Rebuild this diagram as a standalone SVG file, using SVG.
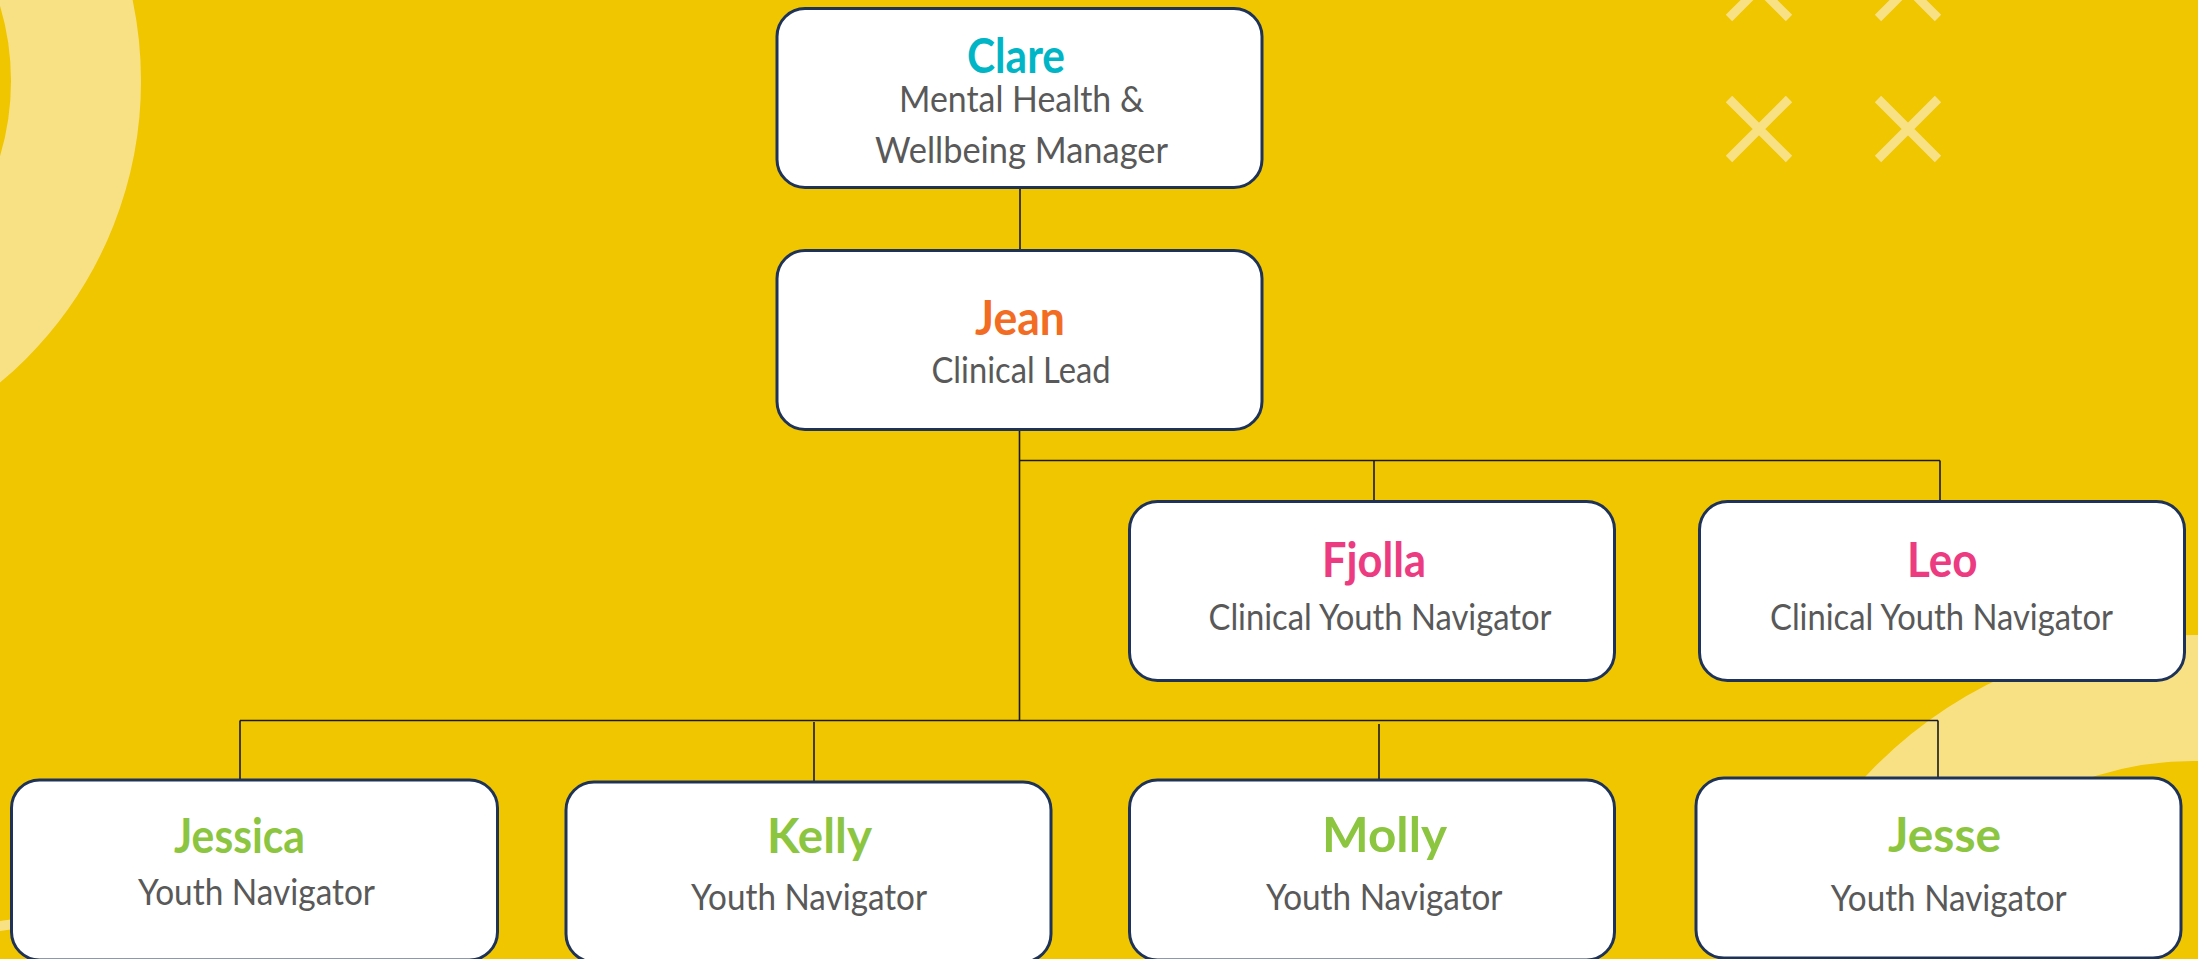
<svg xmlns="http://www.w3.org/2000/svg" width="2198" height="959" viewBox="0 0 2198 959">
<defs>
<style>
.bg{fill:#F0C600}
.deco{fill:none;stroke:#F8E184}
.xm{stroke:#F8E184;stroke-width:9;stroke-linecap:butt}
.box{fill:#FFFFFF;stroke:#1F3358;stroke-width:3}
.ln{stroke:#1A1A1A;stroke-width:1.6;fill:none}
.nm{font-family:Lato,"Open Sans","Liberation Sans",sans-serif;font-weight:700;font-size:47px}
.sub{font-family:Lato,"Open Sans","Liberation Sans",sans-serif;font-size:37px;fill:#595959}
.cyan{fill:#00B5C6}
.orange{fill:#F36C23}
.pink{fill:#EC3B80}
.green{fill:#8CC540}
</style>
</defs>
<rect class="bg" x="0" y="0" width="2198" height="959"/>
<g id="decorations">
<circle class="deco" cx="-252" cy="81" r="328" stroke-width="130"/>
<circle class="deco" cx="2193" cy="1085" r="387" stroke-width="126"/>
<path d="M0,921 L14,919 L14,929 L0,931 Z" fill="#F8E184"/>
<g>
<path class="xm" d="M1729,-42 L1789,18 M1789,-42 L1729,18"/>
<path class="xm" d="M1878,-42 L1938,18 M1938,-42 L1878,18"/>
<path class="xm" d="M1729,99 L1789,159 M1789,99 L1729,159"/>
<path class="xm" d="M1878,99 L1938,159 M1938,99 L1878,159"/>
</g>
</g>
<g id="connectors">
<line class="ln" x1="1020" y1="189" x2="1020" y2="250"/>
<line class="ln" x1="1019.5" y1="431" x2="1019.5" y2="721"/>
<line class="ln" x1="1019.5" y1="460.5" x2="1940" y2="460.5"/>
<line class="ln" x1="1374" y1="460.5" x2="1374" y2="501"/>
<line class="ln" x1="1940" y1="460.5" x2="1940" y2="501"/>
<line class="ln" x1="240" y1="720.5" x2="1938" y2="720.5"/>
<line class="ln" x1="240" y1="720.5" x2="240" y2="780"/>
<line class="ln" x1="814" y1="722" x2="814" y2="782"/>
<line class="ln" x1="1379" y1="724" x2="1379" y2="780"/>
<line class="ln" x1="1938" y1="720.5" x2="1938" y2="778"/>
</g>
<g id="clare">
<rect class="box" x="777" y="8.5" width="485" height="179" rx="28" ry="28"/>
<text class="nm cyan" x="967" y="72.7" textLength="98" lengthAdjust="spacingAndGlyphs">Clare</text>
<text class="sub" x="899" y="112.3" textLength="245" lengthAdjust="spacingAndGlyphs">Mental Health &amp;</text>
<text class="sub" x="875" y="163.3" textLength="293" lengthAdjust="spacingAndGlyphs">Wellbeing Manager</text>
</g>
<g id="jean">
<rect class="box" x="777" y="250.5" width="485" height="179" rx="28" ry="28"/>
<text class="nm orange" x="975" y="335" textLength="90" lengthAdjust="spacingAndGlyphs">Jean</text>
<text class="sub" x="931.5" y="383.3" textLength="179" lengthAdjust="spacingAndGlyphs">Clinical Lead</text>
</g>
<g id="fjolla">
<rect class="box" x="1129.5" y="501.5" width="485" height="179" rx="28" ry="28"/>
<text class="nm pink" x="1322" y="576.7" textLength="104" lengthAdjust="spacingAndGlyphs">Fjolla</text>
<text class="sub" x="1208.5" y="630" textLength="343" lengthAdjust="spacingAndGlyphs">Clinical Youth Navigator</text>
</g>
<g id="leo">
<rect class="box" x="1699.5" y="501.5" width="485" height="179" rx="28" ry="28"/>
<text class="nm pink" x="1907" y="576.7" textLength="70.5" lengthAdjust="spacingAndGlyphs">Leo</text>
<text class="sub" x="1770" y="630" textLength="343" lengthAdjust="spacingAndGlyphs">Clinical Youth Navigator</text>
</g>
<g id="jessica">
<rect class="box" x="11.5" y="780" width="486" height="180" rx="28" ry="28"/>
<text class="nm green" x="174" y="853" textLength="131" lengthAdjust="spacingAndGlyphs">Jessica</text>
<text class="sub" x="138" y="905" textLength="237" lengthAdjust="spacingAndGlyphs">Youth Navigator</text>
</g>
<g id="kelly">
<rect class="box" x="566" y="782" width="485" height="180" rx="28" ry="28"/>
<text class="nm green" x="767" y="853.3" textLength="105" lengthAdjust="spacingAndGlyphs">Kelly</text>
<text class="sub" x="691" y="910" textLength="236" lengthAdjust="spacingAndGlyphs">Youth Navigator</text>
</g>
<g id="molly">
<rect class="box" x="1129.5" y="780" width="485" height="180" rx="28" ry="28"/>
<text class="nm green" x="1322" y="851.7" textLength="125" lengthAdjust="spacingAndGlyphs">Molly</text>
<text class="sub" x="1266" y="910" textLength="236.5" lengthAdjust="spacingAndGlyphs">Youth Navigator</text>
</g>
<g id="jesse">
<rect class="box" x="1696" y="778" width="485" height="180" rx="28" ry="28"/>
<text class="nm green" x="1888" y="851.7" textLength="113" lengthAdjust="spacingAndGlyphs">Jesse</text>
<text class="sub" x="1830.7" y="911" textLength="236" lengthAdjust="spacingAndGlyphs">Youth Navigator</text>
</g>
</svg>
